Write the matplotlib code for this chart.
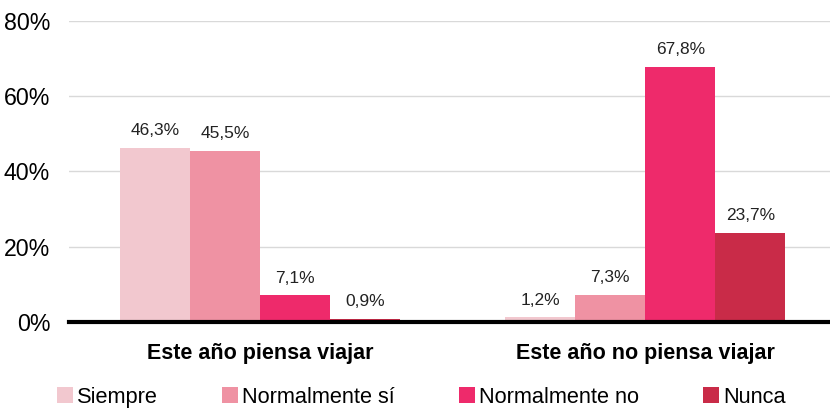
import matplotlib
matplotlib.use("Agg")
import matplotlib.pyplot as plt
import numpy as np

plt.rcParams['font.family'] = ['Liberation Sans', 'DejaVu Sans']

# data
groups = ["Este año piensa viajar", "Este año no piensa viajar"]
series = ["Siempre", "Normalmente sí", "Normalmente no", "Nunca"]
siempre = [46.3, 1.2]
normal_si = [45.5, 7.3]
normal_no = [7.1, 67.8]
nunca = [0.9, 23.7]
colors = ["#F2C8CF", "#EF92A3", "#EE2A6B", "#C92B48"]

values = [siempre, normal_si, normal_no, nunca]

fig = plt.figure(figsize=(8.3, 4.09), dpi=100)
ax = fig.add_axes([0.083, 0.2127, 0.917, 0.736])

x = np.arange(len(groups))
w = 0.182
for i, (name, vals, c) in enumerate(zip(series, values, colors)):
    pos = x + (i - 1.5) * w
    bars = ax.bar(pos, vals, width=w, color=c, label=name, zorder=2)
    for b, v in zip(bars, vals):
        ax.annotate(f"{v:.1f}%".replace(".", ","),
                    (b.get_x() + b.get_width() / 2, v),
                    xytext=(0, 7), textcoords="offset points",
                    ha="center", va="bottom", fontsize=12.5, color="#222222")

ax.set_xlim(-0.497, 1.48)
ax.set_ylim(0, 80)
ax.set_yticks([0, 20, 40, 60, 80])
ax.set_yticklabels([f"{t}%" for t in [0, 20, 40, 60, 80]], fontsize=16.7)
ax.tick_params(axis="y", length=0, pad=13.5)
ax.tick_params(axis="x", length=0, pad=15)
ax.set_xticks(x)
ax.set_xticklabels(groups, fontsize=15.5, fontweight="bold")
ax.grid(axis="y", color="#D9D9D9", linewidth=1, zorder=0)
for s in ["top", "right", "left"]:
    ax.spines[s].set_visible(False)
ax.spines["bottom"].set_linewidth(3)
ax.spines["bottom"].set_color("black")
ax.spines["bottom"].set_zorder(3)

fig.legend(loc="center left", bbox_to_anchor=(0.0687, 0.029), ncol=4, frameon=False,
           fontsize=15.7, handlelength=0.73, handleheight=0.73, handletextpad=0.18,
           columnspacing=2.95, borderpad=0, borderaxespad=0)

fig.savefig("out.png", dpi=100)
